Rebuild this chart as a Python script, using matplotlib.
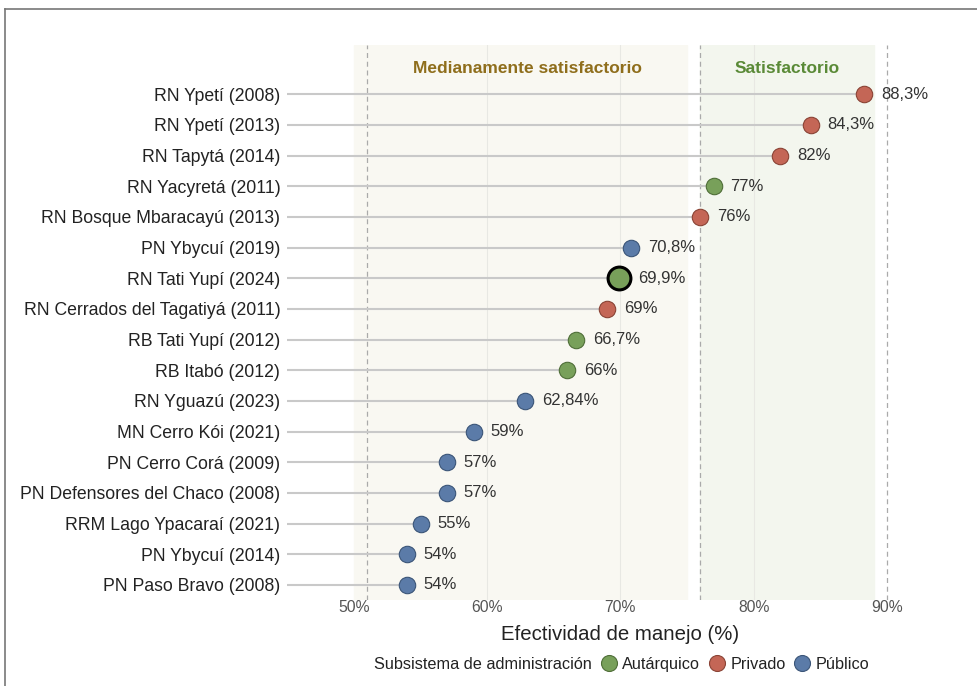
import numpy as np
import matplotlib
matplotlib.use("Agg")
import matplotlib.pyplot as plt
from matplotlib.lines import Line2D

plt.rcParams['font.family'] = ['Liberation Sans', 'DejaVu Sans']

# Datos (de abajo hacia arriba)
areas = ['PN Paso Bravo (2008)', 'PN Ybycuí (2014)', 'RRM Lago Ypacaraí (2021)',
         'PN Defensores del Chaco (2008)', 'PN Cerro Corá (2009)', 'MN Cerro Kói (2021)',
         'RN Yguazú (2023)', 'RB Itabó (2012)', 'RB Tati Yupí (2012)',
         'RN Cerrados del Tagatiyá (2011)', 'RN Tati Yupí (2024)', 'PN Ybycuí (2019)',
         'RN Bosque Mbaracayú (2013)', 'RN Yacyretá (2011)', 'RN Tapytá (2014)',
         'RN Ypetí (2013)', 'RN Ypetí (2008)']
valores = [54, 54, 55, 57, 57, 59, 62.84, 66, 66.7, 69, 69.9, 70.8, 76, 77, 82, 84.3, 88.3]
subsistema = ['Público', 'Público', 'Público', 'Público', 'Público', 'Público', 'Público',
              'Autárquico', 'Autárquico', 'Privado', 'Autárquico', 'Público',
              'Privado', 'Autárquico', 'Privado', 'Privado', 'Privado']
destacado = 'RN Tati Yupí (2024)'

colores = {'Autárquico': '#78a05a', 'Privado': '#c46656', 'Público': '#5b7ba8'}
bordes = {'Autárquico': '#4f6e38', 'Privado': '#8a4335', 'Público': '#3b5578'}

def etiqueta(v):
    s = ('%g' % v).replace('.', ',')
    return s + '%'

fig = plt.figure(figsize=(9.77, 6.86), dpi=100)
ax = fig.add_axes([0.294, 0.125, 0.682, 0.809])

y = np.arange(len(areas))
x0 = 45

# Bandas de categoria
ax.axvspan(50, 75, color='#f9f8f2', zorder=0)
ax.axvspan(76, 89, color='#f3f6ee', zorder=0)
for xv in [60, 70, 80]:
    ax.axvline(xv, color='#e8e8e3', lw=0.8, zorder=0.5)
for xv in [51, 76, 90]:
    ax.axvline(xv, color='#aaaaaa', lw=0.9, ls=(0, (4, 3)), zorder=0.6)
ax.text(63, 16.85, 'Medianamente satisfactorio', color='#8f6e1c', fontsize=12.5,
        fontweight='bold', ha='center', va='center')
ax.text(82.5, 16.85, 'Satisfactorio', color='#5a8a37', fontsize=12.5,
        fontweight='bold', ha='center', va='center')

for yi, v, sub, nombre in zip(y, valores, subsistema, areas):
    ax.plot([x0, v], [yi, yi], color='#c9c9c9', lw=1.5, zorder=1)
    if nombre == destacado:
        ax.scatter(v, yi, s=270, color=colores[sub], edgecolor='black', lw=2.2, zorder=3)
        ax.text(v + 1.4, yi, etiqueta(v), va='center', fontsize=12, color='#333333')
    else:
        ax.scatter(v, yi, s=140, color=colores[sub], edgecolor=bordes[sub], lw=0.8, zorder=3)
        ax.text(v + 1.25, yi, etiqueta(v), va='center', fontsize=12, color='#333333')

ax.set_xlim(45, 95)
ax.set_ylim(-0.5, 17.6)
ax.set_yticks(y)
ax.set_yticklabels(areas, fontsize=12.7, color='#222222')
ax.set_xticks([50, 60, 70, 80, 90])
ax.set_xticklabels(['50%', '60%', '70%', '80%', '90%'], fontsize=11.3, color='#555555')
ax.tick_params(axis='x', length=0, pad=0)
ax.tick_params(axis='y', length=0, pad=5)
for s in ax.spines.values():
    s.set_visible(False)
ax.set_xlabel('Efectividad de manejo (%)', fontsize=14.7, color='#222222', labelpad=7)

# Leyenda
handles = [Line2D([], [], ls='', marker='o', markersize=11.5, markerfacecolor=colores[k],
                  markeredgecolor=bordes[k], markeredgewidth=0.8) for k in colores]
titulo = Line2D([], [], ls='', marker='')
leg = fig.legend([titulo] + handles, ['Subsistema de administración'] + list(colores.keys()),
                 loc='center', bbox_to_anchor=(0.626, 0.032), ncol=4, frameon=False,
                 fontsize=11.7, handlelength=0.9, handletextpad=0.35, columnspacing=0.6)
for t in leg.get_texts():
    t.set_color('#222222')
leg.legend_handles[0].set_visible(False)

# Marco de la captura
fig.add_artist(Line2D([0.005, 1.0], [0.987, 0.987], color='#777777', lw=1.2))
fig.add_artist(Line2D([0.005, 0.005], [0.0, 0.987], color='#777777', lw=1.2))

fig.savefig('out.png', dpi=100)
